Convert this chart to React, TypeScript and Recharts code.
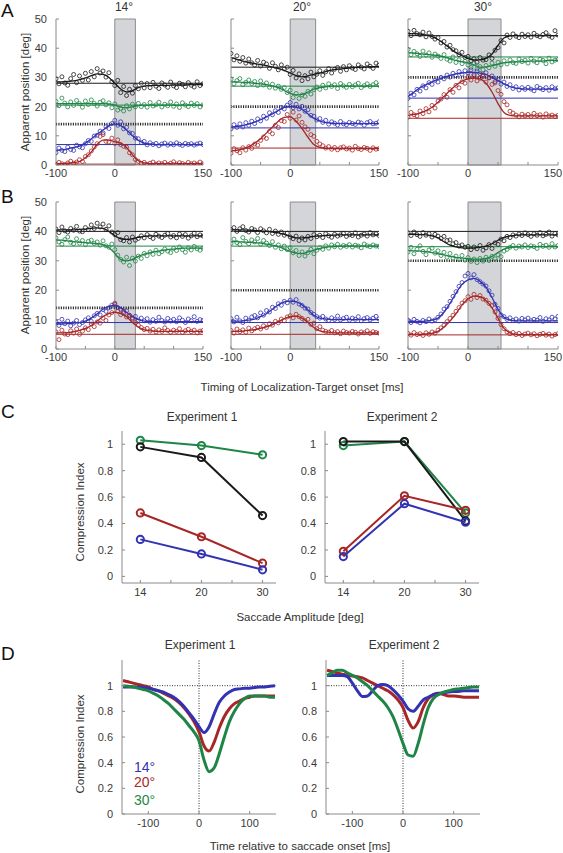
import React from "react";
import {
  ComposedChart,
  XAxis,
  YAxis,
  Scatter,
  Line,
  ReferenceLine,
  ReferenceArea,
} from "recharts";

// ---- time grids ----
const tDots = [-100, -95, -90, -85, -80, -75, -70, -65, -60, -55, -50, -45, -40, -35, -30, -25, -20, -15, -10, -5, 0, 5, 10, 15, 20, 25, 30, 35, 40, 45, 50, 55, 60, 65, 70, 75, 80, 85, 90, 95, 100, 105, 110, 115, 120, 125, 130, 135, 140, 145, 150];
const tFit = [-100, -90, -80, -70, -60, -50, -40, -30, -20, -10, 0, 10, 20, 30, 40, 50, 60, 70, 80, 90, 100, 110, 120, 130, 140, 150];
const tCurve = [-150, -140, -130, -120, -110, -100, -90, -80, -70, -60, -50, -40, -30, -20, -10, 0, 10, 20, 30, 40, 50, 60, 70, 80, 90, 100, 110, 120, 130, 140, 150];

// ---- A, 14 deg ----
const a14BlackDots = [29.5, 27.8, 30.2, 28.1, 27.3, 29.6, 31.0, 28.2, 30.5, 29.0, 31.4, 29.1, 32.0, 30.2, 33.0, 31.5, 32.2, 30.1, 31.6, 28.5, 27.2, 29.0, 24.8, 26.9, 23.8, 25.9, 24.6, 27.2, 26.1, 28.0, 26.4, 27.9, 26.5, 28.3, 27.0, 26.2, 28.1, 27.4, 26.6, 28.4, 27.1, 26.5, 28.0, 27.6, 26.8, 28.2, 27.3, 26.7, 28.5, 27.2, 27.8];
const a14GreenDots = [21.8, 20.3, 22.9, 21.2, 19.9, 21.6, 20.4, 22.1, 21.0, 19.8, 21.9, 20.7, 22.3, 21.1, 20.2, 21.5, 22.0, 20.6, 21.3, 19.6, 20.9, 18.8, 19.4, 18.5, 20.3, 19.2, 20.8, 19.9, 21.1, 20.0, 20.7, 19.8, 21.4, 20.2, 20.6, 21.5, 19.9, 20.8, 20.3, 21.6, 20.1, 20.9, 19.7, 21.3, 20.5, 20.0, 21.2, 20.4, 21.0, 19.9, 20.6];
const a14BlueDots = [4.2, 5.8, 5.0, 4.6, 6.1, 5.3, 5.0, 6.8, 6.2, 5.9, 7.3, 8.4, 8.1, 9.9, 10.2, 11.6, 11.0, 13.1, 12.5, 14.2, 15.3, 13.6, 14.8, 12.4, 12.9, 11.0, 10.8, 9.2, 9.0, 7.7, 8.1, 6.9, 7.6, 7.0, 7.4, 6.6, 7.2, 7.5, 6.8, 7.3, 6.9, 7.6, 7.1, 6.7, 7.4, 7.0, 7.3, 6.8, 7.2, 7.5, 7.0];
const a14RedDots = [0.2, 0.9, 0.4, 0.1, 0.7, 1.3, 0.6, 1.0, 1.8, 1.2, 2.9, 3.5, 4.8, 6.2, 7.3, 9.8, 10.4, 8.1, 7.9, 9.2, 7.4, 8.6, 7.0, 6.4, 6.1, 4.2, 3.5, 1.9, 1.3, 0.5, 0.9, 0.2, 0.6, 1.0, 0.3, 0.7, 0.4, 0.9, 0.2, 0.6, 1.1, 0.3, 0.8, 0.5, 0.1, 0.9, 0.4, 0.7, 0.3, 1.0, 0.5];
const a14BlackFit = [28.5, 28.5, 28.6, 28.8, 29.2, 29.8, 30.6, 31.2, 31.0, 30.0, 28.0, 26.0, 25.0, 25.5, 26.5, 27.0, 27.2, 27.3, 27.3, 27.3, 27.4, 27.4, 27.4, 27.5, 27.5, 27.5];
const a14GreenFit = [21.0, 21.0, 21.0, 21.0, 21.0, 21.0, 21.0, 21.0, 21.0, 20.9, 20.5, 19.8, 19.6, 19.9, 20.3, 20.5, 20.5, 20.5, 20.5, 20.5, 20.5, 20.5, 20.5, 20.5, 20.5, 20.5];
const a14BlueFit = [5.0, 5.2, 5.5, 6.0, 6.5, 7.5, 9.0, 10.5, 12.0, 13.5, 14.0, 13.5, 12.0, 10.0, 8.5, 7.5, 7.2, 7.0, 7.0, 7.0, 7.0, 7.0, 7.0, 7.0, 7.0, 7.0];
const a14RedFit = [0.5, 0.5, 0.6, 0.8, 1.2, 2.5, 4.5, 7.0, 8.5, 8.5, 8.0, 7.5, 6.0, 3.5, 1.5, 0.8, 0.5, 0.5, 0.5, 0.5, 0.5, 0.5, 0.5, 0.5, 0.5, 0.5];
const a14Base = [28, 20.5, 7, 0.3];

// ---- A, 20 deg ----
const a20BlackDots = [38.2, 36.0, 37.4, 35.5, 36.8, 34.9, 36.3, 35.0, 34.2, 35.8, 33.9, 35.2, 34.6, 33.1, 35.0, 33.8, 32.6, 34.3, 32.9, 33.5, 31.0, 32.4, 29.8, 31.2, 28.9, 30.6, 29.5, 31.8, 30.2, 31.1, 32.3, 30.7, 31.9, 33.0, 31.5, 32.8, 33.4, 32.1, 33.7, 32.6, 34.0, 33.2, 32.7, 34.3, 33.5, 32.9, 34.6, 33.8, 33.1, 34.9, 34.2];
const a20GreenDots = [29.4, 27.8, 28.9, 29.6, 27.5, 28.3, 29.1, 27.9, 28.6, 27.2, 28.8, 27.4, 28.1, 26.6, 27.7, 26.3, 27.0, 25.9, 26.5, 24.8, 25.6, 23.1, 24.5, 22.8, 24.0, 23.5, 25.2, 24.3, 25.8, 26.7, 25.9, 27.3, 26.4, 27.8, 26.9, 27.5, 26.2, 27.9, 27.1, 26.6, 27.6, 26.8, 27.4, 28.0, 26.5, 27.2, 27.8, 26.9, 27.5, 28.2, 27.3];
const a20BlueDots = [12.4, 13.8, 12.9, 14.1, 13.0, 14.5, 13.6, 15.0, 14.2, 15.8, 15.1, 16.7, 16.0, 17.9, 17.2, 18.6, 18.0, 19.7, 19.2, 20.5, 21.4, 19.6, 20.8, 19.2, 20.1, 18.4, 18.9, 17.0, 16.7, 15.4, 15.9, 14.6, 15.3, 14.0, 14.8, 14.3, 13.7, 14.9, 14.1, 13.8, 14.6, 14.2, 13.9, 14.7, 14.4, 13.6, 14.5, 14.9, 14.1, 14.3, 14.8];
const a20RedDots = [4.0, 5.6, 4.9, 4.2, 5.9, 5.1, 6.3, 5.7, 7.2, 6.8, 8.4, 9.6, 9.1, 11.5, 10.7, 13.6, 12.8, 15.2, 14.9, 17.3, 16.0, 18.1, 15.4, 16.8, 14.6, 13.1, 12.2, 10.4, 9.8, 8.1, 7.2, 6.6, 5.8, 6.3, 5.4, 6.0, 5.2, 5.9, 6.2, 5.5, 5.8, 5.1, 6.4, 5.6, 5.3, 6.0, 5.7, 5.0, 5.9, 5.4, 5.6];
const a20BlackFit = [36.8, 36.2, 35.6, 35.1, 34.7, 34.4, 34.0, 33.5, 33.0, 32.4, 31.5, 30.6, 30.2, 30.5, 31.0, 31.5, 32.0, 32.5, 32.8, 33.0, 33.2, 33.4, 33.5, 33.6, 33.7, 33.8];
const a20GreenFit = [28.5, 28.5, 28.3, 28.2, 28.0, 27.8, 27.5, 27.0, 26.5, 25.5, 24.5, 24.0, 24.2, 25.0, 26.0, 26.5, 26.8, 27.0, 27.0, 27.0, 27.0, 27.0, 27.0, 27.0, 27.0, 27.0];
const a20BlueFit = [13.0, 13.2, 13.5, 14.0, 14.7, 15.5, 16.5, 17.5, 18.7, 19.7, 20.0, 19.8, 19.0, 17.5, 16.0, 15.0, 14.5, 14.3, 14.2, 14.2, 14.2, 14.2, 14.2, 14.2, 14.2, 14.2];
const a20RedFit = [4.8, 5.0, 5.5, 6.3, 7.5, 9.0, 11.0, 13.0, 15.0, 16.3, 16.5, 15.0, 12.5, 9.5, 7.0, 6.0, 5.7, 5.6, 5.6, 5.6, 5.6, 5.6, 5.6, 5.6, 5.6, 5.6];
const a20Base = [33.5, 27, 12.7, 5.8];

// ---- A, 30 deg ----
const a30BlackDots = [45.8, 44.3, 46.1, 45.0, 44.6, 45.5, 43.9, 45.2, 44.0, 43.1, 43.6, 41.8, 42.3, 40.4, 41.0, 39.5, 39.1, 37.8, 38.6, 36.9, 37.2, 35.7, 36.4, 35.2, 36.8, 35.9, 36.1, 37.7, 36.5, 39.3, 40.2, 42.6, 41.8, 44.5, 43.7, 44.9, 44.1, 43.6, 44.8, 44.0, 44.6, 43.8, 45.1, 44.3, 43.9, 44.7, 45.3, 44.2, 43.7, 46.0, 44.5];
const a30GreenDots = [39.6, 37.8, 38.9, 38.1, 37.2, 39.0, 37.6, 38.4, 36.9, 38.0, 37.3, 36.5, 37.8, 36.2, 35.6, 37.0, 35.1, 36.0, 34.7, 35.5, 34.2, 33.4, 34.8, 32.9, 33.7, 32.6, 34.1, 33.3, 34.9, 33.8, 35.2, 34.3, 35.7, 34.6, 36.0, 35.1, 34.8, 36.3, 35.4, 35.9, 34.9, 36.5, 35.6, 35.0, 36.2, 35.8, 34.7, 36.6, 35.3, 35.9, 36.1];
const a30BlueDots = [22.8, 24.6, 24.0, 25.9, 25.3, 27.1, 26.4, 28.2, 27.6, 29.0, 28.4, 30.0, 29.5, 30.8, 30.1, 31.4, 30.6, 32.0, 31.1, 32.3, 31.5, 32.6, 31.0, 32.2, 31.3, 30.4, 31.6, 29.8, 30.5, 28.6, 29.3, 27.7, 28.4, 26.9, 27.5, 26.2, 26.8, 25.7, 26.5, 25.9, 26.6, 26.0, 25.4, 26.9, 26.3, 25.8, 26.5, 25.6, 26.8, 26.1, 26.4];
const a30RedDots = [16.4, 18.0, 17.2, 16.8, 18.5, 17.6, 19.3, 18.2, 20.4, 19.5, 21.9, 22.6, 24.1, 23.2, 25.8, 24.9, 27.3, 26.4, 28.5, 28.0, 30.2, 29.1, 30.6, 28.8, 29.7, 30.9, 28.4, 29.9, 27.6, 28.1, 25.5, 24.2, 21.7, 20.6, 18.4, 17.8, 17.1, 16.5, 17.4, 16.8, 17.3, 16.6, 17.7, 16.9, 17.2, 16.4, 17.5, 16.8, 17.1, 16.6, 17.0];
const a30BlackFit = [45.0, 45.0, 44.8, 44.5, 44.0, 43.0, 41.5, 40.0, 38.5, 37.5, 36.5, 36.0, 36.0, 36.5, 38.0, 41.0, 43.5, 44.2, 44.3, 44.3, 44.3, 44.3, 44.3, 44.3, 44.3, 44.3];
const a30GreenFit = [38.5, 38.3, 38.1, 37.9, 37.7, 37.5, 37.0, 36.4, 35.8, 35.4, 35.0, 34.2, 33.5, 33.6, 34.0, 34.5, 35.0, 35.2, 35.3, 35.4, 35.5, 35.6, 35.6, 35.7, 35.8, 35.8];
const a30BlueFit = [23.5, 25.0, 26.5, 27.5, 28.5, 29.3, 30.0, 30.7, 31.2, 31.5, 31.7, 31.7, 31.5, 31.0, 30.0, 29.0, 27.8, 26.8, 26.3, 26.1, 26.0, 26.0, 26.0, 26.0, 26.0, 26.0];
const a30RedFit = [17.0, 17.3, 17.8, 18.6, 19.8, 21.5, 23.5, 25.5, 27.3, 28.7, 29.5, 29.8, 29.5, 28.0, 25.0, 21.0, 18.0, 17.0, 16.8, 16.8, 16.8, 16.8, 16.8, 16.8, 16.8, 16.8];
const a30Base = [44.3, 37, 22.9, 16];

// ---- B, 14 deg ----
const b14BlackDots = [40.8, 39.6, 41.5, 40.2, 39.8, 41.0, 40.4, 41.7, 40.1, 39.9, 41.3, 40.6, 42.2, 41.0, 42.8, 41.5, 42.5, 40.7, 41.9, 39.8, 38.9, 39.6, 37.2, 36.8, 37.9, 36.4, 38.1, 37.0, 37.6, 38.5, 37.8, 38.9, 38.2, 37.6, 39.0, 38.4, 37.9, 38.7, 39.3, 38.1, 38.6, 37.8, 39.1, 38.3, 38.9, 37.7, 38.5, 39.4, 38.2, 38.8, 38.4];
const b14GreenDots = [37.8, 36.4, 35.6, 37.2, 38.1, 36.3, 35.8, 37.5, 36.0, 36.9, 35.5, 36.6, 37.0, 35.9, 36.4, 35.3, 36.8, 35.1, 34.6, 35.7, 33.8, 31.9, 30.5, 29.6, 31.2, 28.4, 30.9, 29.9, 31.6, 30.8, 32.5, 31.7, 33.0, 32.2, 33.6, 32.4, 33.1, 34.0, 33.3, 32.8, 34.2, 33.5, 34.7, 33.8, 32.9, 34.4, 33.7, 34.9, 34.1, 33.6, 34.3];
const b14BlueDots = [9.2, 8.0, 10.1, 8.6, 9.5, 7.9, 8.8, 9.7, 8.3, 9.0, 9.9, 10.6, 9.4, 11.3, 12.1, 11.6, 13.4, 12.8, 14.0, 14.9, 15.2, 14.1, 13.5, 12.2, 13.0, 11.4, 10.6, 11.1, 9.8, 10.5, 9.6, 10.3, 9.1, 10.0, 9.4, 10.8, 9.7, 9.2, 10.4, 9.5, 10.1, 9.3, 10.6, 9.8, 9.0, 10.2, 9.6, 11.0, 9.4, 10.0, 9.7];
const b14RedDots = [5.8, 3.2, 6.4, 5.1, 4.9, 6.2, 5.4, 6.8, 5.0, 6.1, 7.2, 6.6, 8.5, 7.6, 9.2, 8.8, 10.5, 9.7, 11.6, 12.4, 15.6, 12.9, 11.7, 12.8, 10.9, 11.5, 10.2, 9.0, 8.1, 7.3, 6.6, 7.0, 6.1, 6.7, 5.8, 6.5, 6.0, 7.2, 6.3, 5.7, 6.4, 6.0, 6.9, 5.6, 6.2, 6.7, 5.9, 6.4, 5.5, 6.1, 6.3];
const b14BlackFit = [40.5, 40.5, 40.5, 40.5, 40.7, 40.8, 41.0, 41.2, 41.0, 40.0, 38.5, 37.5, 37.3, 37.5, 38.0, 38.3, 38.5, 38.5, 38.5, 38.5, 38.5, 38.5, 38.5, 38.5, 38.5, 38.5];
const b14GreenFit = [37.0, 37.0, 36.8, 36.5, 36.3, 36.2, 36.0, 35.8, 35.5, 34.5, 32.5, 30.5, 30.0, 30.5, 31.5, 32.3, 32.8, 33.2, 33.5, 33.8, 34.0, 34.2, 34.3, 34.3, 34.3, 34.3];
const b14BlueFit = [8.5, 8.5, 8.6, 8.8, 9.0, 9.5, 10.5, 12.0, 13.5, 14.5, 14.8, 14.0, 12.5, 11.0, 10.0, 9.5, 9.3, 9.3, 9.3, 9.3, 9.3, 9.3, 9.3, 9.3, 9.3, 9.3];
const b14RedFit = [5.5, 5.5, 5.6, 5.8, 6.3, 7.0, 8.0, 9.5, 11.0, 12.0, 12.5, 12.0, 11.0, 9.0, 7.5, 6.5, 6.2, 6.0, 6.0, 6.0, 6.0, 6.0, 6.0, 6.0, 6.0, 6.0];
const b14Base = [40, 35, 9, 5];

// ---- B, 20 deg ----
const b20BlackDots = [40.6, 41.3, 40.0, 40.9, 41.6, 40.3, 39.8, 41.0, 40.5, 39.6, 40.9, 40.2, 39.5, 40.7, 39.3, 40.1, 39.0, 39.8, 38.7, 39.4, 38.1, 37.5, 38.4, 36.9, 37.8, 37.1, 38.3, 37.6, 38.9, 38.2, 38.7, 37.9, 39.2, 38.5, 38.0, 39.0, 38.4, 38.8, 39.3, 38.3, 38.9, 38.6, 39.5, 38.1, 38.7, 39.1, 38.4, 39.6, 38.8, 39.2, 38.6];
const b20GreenDots = [35.9, 37.4, 36.2, 35.5, 37.9, 36.6, 35.8, 37.1, 36.4, 37.6, 35.7, 36.9, 36.0, 35.2, 36.5, 34.6, 35.4, 34.1, 35.0, 33.8, 34.4, 32.7, 33.5, 31.8, 33.0, 31.6, 32.8, 33.9, 32.4, 33.6, 34.5, 33.9, 35.1, 34.3, 35.4, 34.8, 35.6, 34.6, 35.2, 34.9, 35.5, 34.7, 35.3, 35.0, 34.4, 35.7, 35.1, 34.8, 35.4, 35.0, 34.9];
const b20BlueDots = [10.3, 9.2, 10.8, 9.6, 9.0, 10.5, 9.8, 10.9, 11.4, 10.6, 12.3, 11.5, 13.1, 12.6, 14.2, 13.8, 15.4, 14.9, 16.2, 15.7, 16.6, 15.9, 16.8, 15.3, 14.8, 13.9, 13.6, 12.4, 11.8, 11.0, 10.5, 11.1, 10.2, 9.7, 10.6, 10.0, 11.2, 9.9, 10.4, 10.8, 9.8, 10.5, 10.1, 11.0, 9.6, 10.3, 10.7, 9.9, 10.5, 11.1, 10.2];
const b20RedDots = [6.3, 5.4, 6.8, 5.9, 6.5, 5.7, 7.1, 6.2, 6.9, 7.4, 6.8, 7.9, 7.3, 8.6, 8.1, 9.4, 8.9, 10.2, 9.6, 10.9, 11.3, 10.6, 11.8, 11.0, 10.4, 9.6, 10.1, 8.4, 8.8, 6.9, 7.6, 6.4, 6.0, 5.7, 6.3, 5.5, 5.9, 5.2, 6.1, 5.6, 5.4, 6.0, 5.7, 5.1, 5.8, 5.5, 6.2, 5.3, 5.9, 5.6, 5.4];
const b20BlackFit = [40.5, 40.5, 40.5, 40.4, 40.3, 40.2, 40.0, 39.8, 39.5, 39.0, 38.3, 37.8, 37.8, 38.0, 38.3, 38.5, 38.6, 38.7, 38.8, 38.8, 38.8, 38.8, 38.8, 38.8, 38.8, 38.8];
const b20GreenFit = [36.5, 36.5, 36.4, 36.3, 36.2, 36.0, 35.7, 35.3, 34.8, 34.0, 33.2, 32.6, 32.5, 33.0, 33.6, 34.2, 34.6, 34.8, 34.9, 35.0, 35.0, 35.0, 35.0, 35.0, 35.0, 35.0];
const b20BlueFit = [9.5, 9.5, 9.6, 9.8, 10.2, 11.0, 12.0, 13.5, 15.0, 16.0, 16.3, 16.0, 15.0, 13.3, 11.5, 10.5, 10.2, 10.0, 10.0, 10.0, 10.0, 10.0, 10.0, 10.0, 10.0, 10.0];
const b20RedFit = [6.0, 6.0, 6.1, 6.3, 6.6, 7.0, 7.5, 8.3, 9.3, 10.3, 11.0, 11.2, 10.5, 9.0, 7.3, 6.2, 5.8, 5.6, 5.5, 5.5, 5.5, 5.5, 5.5, 5.5, 5.5, 5.5];
const b20Base = [40, 35, 9, 5];

// ---- B, 30 deg ----
const b30BlackDots = [39.5, 38.6, 39.8, 38.9, 38.3, 39.6, 38.7, 39.2, 38.1, 39.0, 38.4, 37.6, 38.3, 36.9, 37.1, 35.8, 36.2, 35.0, 35.4, 34.6, 34.9, 33.8, 34.7, 34.1, 35.2, 33.6, 34.4, 35.5, 34.2, 36.1, 35.6, 37.4, 36.8, 38.3, 37.9, 38.8, 38.4, 39.1, 38.6, 39.5, 38.9, 38.3, 39.2, 38.7, 39.6, 38.5, 39.0, 39.8, 38.4, 39.3, 38.8];
const b30GreenDots = [33.0, 34.6, 32.4, 33.9, 35.1, 33.2, 32.1, 33.7, 34.3, 32.6, 33.4, 31.8, 32.9, 31.2, 32.5, 30.9, 31.6, 30.4, 31.8, 30.2, 31.1, 29.8, 30.6, 29.4, 30.8, 29.9, 31.2, 30.1, 31.5, 30.7, 32.0, 31.4, 33.3, 33.9, 34.6, 35.2, 34.3, 35.0, 34.7, 35.4, 34.5, 35.1, 34.8, 34.2, 35.6, 34.9, 35.3, 34.6, 35.8, 34.7, 35.2];
const b30BlueDots = [9.8, 9.0, 10.1, 9.4, 8.9, 9.7, 9.3, 10.2, 9.5, 9.9, 10.8, 11.9, 13.6, 14.4, 16.2, 17.9, 19.5, 21.3, 22.6, 24.8, 25.7, 24.2, 25.3, 23.6, 22.9, 22.1, 21.4, 19.8, 18.3, 15.2, 13.8, 11.6, 11.0, 10.1, 10.6, 9.7, 10.2, 9.5, 10.4, 9.9, 10.5, 9.6, 10.1, 9.8, 10.7, 9.4, 10.3, 9.9, 10.8, 10.2, 11.1];
const b30RedDots = [5.3, 4.7, 5.6, 4.9, 5.2, 4.6, 5.5, 5.0, 5.8, 5.4, 6.4, 7.2, 8.1, 9.3, 10.4, 11.5, 12.8, 14.1, 15.6, 16.4, 17.8, 16.9, 18.6, 17.5, 18.2, 17.0, 16.6, 15.5, 14.8, 12.6, 10.4, 8.3, 6.9, 5.8, 5.2, 5.6, 4.9, 5.3, 4.6, 5.1, 5.4, 4.8, 5.2, 4.5, 5.0, 5.3, 4.7, 5.1, 4.4, 4.9, 5.2];
const b30BlackFit = [39.0, 39.0, 38.9, 38.8, 38.5, 37.8, 36.5, 35.3, 34.7, 34.4, 34.3, 34.4, 34.6, 35.0, 35.8, 37.0, 38.0, 38.5, 38.7, 38.8, 38.8, 38.8, 38.8, 38.8, 38.8, 38.8];
const b30GreenFit = [33.5, 33.4, 33.3, 33.1, 32.8, 32.4, 32.0, 31.5, 31.2, 30.9, 30.7, 30.6, 30.6, 30.8, 31.5, 32.8, 34.0, 34.5, 34.7, 34.8, 34.8, 34.8, 34.8, 34.8, 34.8, 34.8];
const b30BlueFit = [9.5, 9.4, 9.4, 9.5, 9.8, 10.5, 12.5, 15.5, 19.0, 22.0, 23.5, 24.0, 23.0, 21.0, 17.5, 13.5, 10.8, 9.8, 9.6, 9.6, 9.6, 9.6, 9.6, 9.6, 9.6, 9.6];
const b30RedFit = [5.0, 5.0, 5.0, 5.1, 5.3, 6.0, 7.5, 9.5, 12.0, 15.0, 17.0, 18.0, 17.8, 16.5, 14.0, 10.5, 7.0, 5.5, 5.0, 4.9, 4.9, 4.9, 4.9, 4.9, 4.9, 4.9];
const b30Base = [40, 34.8, 9, 4.8];

// saccade targets and durations (ms)
const targets = [14, 20, 30];
const sacDur = [35, 43, 55];

// ---- C ----
const ampLabels = ["14", "20", "30"];
const c1Black = [0.98, 0.9, 0.46];
const c1Green = [1.03, 0.99, 0.92];
const c1Red = [0.48, 0.3, 0.1];
const c1Blue = [0.28, 0.17, 0.05];
const c2Black = [1.02, 1.02, 0.42];
const c2Green = [0.99, 1.02, 0.48];
const c2Red = [0.19, 0.61, 0.5];
const c2Blue = [0.15, 0.55, 0.41];

// ---- D ----
const d1Blue = [0.99, 0.99, 0.99, 0.99, 0.985, 0.98, 0.97, 0.96, 0.95, 0.93, 0.91, 0.88, 0.84, 0.79, 0.74, 0.68, 0.635, 0.68, 0.78, 0.87, 0.92, 0.95, 0.97, 0.975, 0.98, 0.98, 0.985, 0.99, 0.99, 0.995, 1.0];
const d1Red = [1.04, 1.03, 1.02, 1.01, 1.0, 0.99, 0.97, 0.96, 0.94, 0.92, 0.9, 0.87, 0.83, 0.78, 0.72, 0.64, 0.53, 0.49, 0.56, 0.67, 0.76, 0.82, 0.86, 0.88, 0.9, 0.91, 0.92, 0.92, 0.92, 0.92, 0.92];
const d1Green = [1.0, 0.995, 0.99, 0.98, 0.97, 0.96, 0.94, 0.92, 0.89, 0.86, 0.82, 0.78, 0.74, 0.69, 0.64, 0.57, 0.42, 0.33, 0.36, 0.47, 0.6, 0.72, 0.8, 0.86, 0.9, 0.92, 0.92, 0.92, 0.92, 0.91, 0.91];
const d2Blue = [1.08, 1.08, 1.08, 1.08, 1.07, 1.02, 0.96, 0.915, 0.92, 0.96, 1.0, 1.01, 1.0, 0.97, 0.93, 0.88, 0.82, 0.8, 0.84, 0.89, 0.91, 0.93, 0.94, 0.945, 0.95, 0.955, 0.955, 0.96, 0.96, 0.96, 0.96];
const d2Red = [1.12, 1.11, 1.1, 1.09, 1.08, 1.075, 1.07, 1.06, 1.04, 1.02, 1.0, 0.98, 0.96, 0.93, 0.89, 0.83, 0.73, 0.67, 0.72, 0.83, 0.9, 0.93, 0.94, 0.93, 0.92, 0.92, 0.915, 0.91, 0.91, 0.91, 0.91];
const d2Green = [1.08, 1.1, 1.12, 1.12, 1.1, 1.08, 1.06, 1.03, 1.0, 0.96, 0.92, 0.88, 0.83, 0.76, 0.66, 0.55, 0.46, 0.45, 0.55, 0.7, 0.83, 0.9, 0.93, 0.95, 0.96, 0.97, 0.975, 0.98, 0.985, 0.99, 0.99];

const FONT = "'Liberation Sans', Arial, Helvetica, sans-serif";
const BLACK = "#1a1a1a";
const GREEN = "#1f8546";
const BLUE = "#3232b2";
const RED = "#a82626";
const COLORS = [BLACK, GREEN, BLUE, RED];
const AXIS = "#8a8a8a";
const TICK = { fontSize: 11, fill: "#3a3a3a", fontFamily: FONT };

const rowA = [
  { dots: [a14BlackDots, a14GreenDots, a14BlueDots, a14RedDots], fits: [a14BlackFit, a14GreenFit, a14BlueFit, a14RedFit], base: a14Base },
  { dots: [a20BlackDots, a20GreenDots, a20BlueDots, a20RedDots], fits: [a20BlackFit, a20GreenFit, a20BlueFit, a20RedFit], base: a20Base },
  { dots: [a30BlackDots, a30GreenDots, a30BlueDots, a30RedDots], fits: [a30BlackFit, a30GreenFit, a30BlueFit, a30RedFit], base: a30Base },
];
const rowB = [
  { dots: [b14BlackDots, b14GreenDots, b14BlueDots, b14RedDots], fits: [b14BlackFit, b14GreenFit, b14BlueFit, b14RedFit], base: b14Base },
  { dots: [b20BlackDots, b20GreenDots, b20BlueDots, b20RedDots], fits: [b20BlackFit, b20GreenFit, b20BlueFit, b20RedFit], base: b20Base },
  { dots: [b30BlackDots, b30GreenDots, b30BlueDots, b30RedDots], fits: [b30BlackFit, b30GreenFit, b30BlueFit, b30RedFit], base: b30Base },
];

const plotLeft = [56, 231, 408];
const plotWidth = [147, 148, 150];

// x tick for the position plots: only -100, 0, 150 labelled; last panel's 150 pulled in a bit
function PosXTick({ x, y, payload, last }: any) {
  const v = payload.value;
  const show = v === -100 || v === 0 || v === 150;
  if (!show) return null;
  const dx = last && v === 150 ? -5 : 0;
  return (
    <text x={x + dx} y={y} dy="0.75em" textAnchor="middle" fontSize={11} fill="#3a3a3a" fontFamily={FONT}>
      {v}
    </text>
  );
}

function PosPlot({ idx, top, ph, set }: any) {
  const yW = 30;
  const pw = plotWidth[idx];
  return (
    <div style={{ position: "absolute", left: plotLeft[idx] - yW, top: top - 8 }}>
      <ComposedChart width={yW + pw + 14} height={8 + ph + 22} margin={{ top: 8, right: 14, left: 0, bottom: 0 }}>
        <XAxis
          type="number"
          dataKey="t"
          domain={[-100, 150]}
          ticks={[-100, -50, 0, 50, 100, 150]}
          interval={0}
          height={22}
          tick={<PosXTick last={idx === 2} />}
          tickSize={-3}
          tickMargin={7}
          stroke={AXIS}
          allowDataOverflow
        />
        <YAxis
          type="number"
          domain={[0, 50]}
          ticks={[0, 10, 20, 30, 40, 50]}
          interval={0}
          tickFormatter={(v: number) => (idx === 0 ? String(v) : "")}
          width={yW}
          tick={TICK}
          tickSize={-3}
          tickMargin={12}
          stroke={AXIS}
          allowDataOverflow
        />
        <ReferenceArea x1={0} x2={sacDur[idx]} y1={0} y2={50} fill="#d3d5d8" fillOpacity={1} stroke="#8c8c8c" strokeWidth={1} />
        {set.base.map((b: number, i: number) => (
          <ReferenceLine key={"b" + i} y={b} stroke={COLORS[i]} strokeWidth={1} />
        ))}
        <ReferenceLine y={targets[idx]} stroke="#222" strokeWidth={2.6} strokeDasharray="1.1 1.3" />
        {set.dots.map((arr: number[], i: number) => (
          <Scatter
            key={"s" + i}
            data={tDots.map((t, j) => ({ t, y: arr[j] }))}
            dataKey="y"
            isAnimationActive={false}
            shape={(p: any) => <circle cx={p.cx} cy={p.cy} r={2} fill="none" stroke={COLORS[i]} strokeWidth={0.8} />}
          />
        ))}
        {set.fits.map((arr: number[], i: number) => (
          <Line
            key={"f" + i}
            data={tFit.map((t, j) => ({ t, y: arr[j] }))}
            dataKey="y"
            type="monotone"
            stroke={COLORS[i]}
            strokeWidth={1.3}
            dot={false}
            isAnimationActive={false}
          />
        ))}
      </ComposedChart>
    </div>
  );
}

function CIPlot({ left, series }: any) {
  const yW = 35;
  const data = ampLabels.map((a, i) => ({
    pos: i,
    k: series[0][i],
    g: series[1][i],
    b: series[2][i],
    r: series[3][i],
  }));
  const keys = [
    ["g", GREEN],
    ["k", BLACK],
    ["r", RED],
    ["b", BLUE],
  ];
  return (
    <div style={{ position: "absolute", left: left - yW, top: 431 - 8 }}>
      <ComposedChart width={yW + 154 + 10} height={8 + 152 + 24} data={data} margin={{ top: 8, right: 10, left: 0, bottom: 0 }}>
        <XAxis
          type="number"
          dataKey="pos"
          domain={[-0.3, 2.22]}
          ticks={[0, 0.5, 1, 1.5, 2]}
          interval={0}
          tickFormatter={(v: number) => (Number.isInteger(v) ? ampLabels[v] : "")}
          height={24}
          tick={TICK}
          tickSize={-3}
          tickMargin={8}
          stroke={AXIS}
          allowDataOverflow
        />
        <YAxis
          type="number"
          domain={[-0.05, 1.1]}
          ticks={[0, 0.2, 0.4, 0.6, 0.8, 1]}
          interval={0}
          width={yW}
          tick={TICK}
          tickSize={-3}
          tickMargin={12}
          stroke={AXIS}
          allowDataOverflow
        />
        {keys.map(([k, c]) => (
          <Line
            key={k}
            dataKey={k}
            type="linear"
            stroke={c}
            strokeWidth={2}
            dot={{ r: 3.6, fill: "none", stroke: c, strokeWidth: 2 }}
            isAnimationActive={false}
          />
        ))}
      </ComposedChart>
    </div>
  );
}

function CurvePlot({ left, series }: any) {
  const yW = 35;
  const data = tCurve.map((t, i) => ({ t, b: series[0][i], r: series[1][i], g: series[2][i] }));
  return (
    <div style={{ position: "absolute", left: left - yW, top: 660 - 8 }}>
      <ComposedChart width={yW + 154 + 10} height={8 + 154 + 24} data={data} margin={{ top: 8, right: 10, left: 0, bottom: 0 }}>
        <XAxis
          type="number"
          dataKey="t"
          domain={[-152, 152]}
          ticks={[-100, 0, 100]}
          interval={0}
          height={24}
          tick={TICK}
          tickSize={-3}
          tickMargin={8}
          stroke={AXIS}
          allowDataOverflow
        />
        <YAxis
          type="number"
          domain={[0, 1.2]}
          ticks={[0, 0.2, 0.4, 0.6, 0.8, 1]}
          interval={0}
          width={yW}
          tick={TICK}
          tickSize={-3}
          tickMargin={12}
          stroke={AXIS}
          allowDataOverflow
        />
        <ReferenceLine y={1} stroke="#333" strokeWidth={1} strokeDasharray="1 1.5" />
        <ReferenceLine x={0} stroke="#333" strokeWidth={1} strokeDasharray="1 1.5" />
        <Line dataKey="r" type="monotone" stroke={RED} strokeWidth={3} dot={false} isAnimationActive={false} />
        <Line dataKey="b" type="monotone" stroke={BLUE} strokeWidth={3} dot={false} isAnimationActive={false} />
        <Line dataKey="g" type="monotone" stroke={GREEN} strokeWidth={3} dot={false} isAnimationActive={false} />
      </ComposedChart>
    </div>
  );
}

export default function App() {
  const txt = { fontFamily: FONT, fill: "#333" };
  return (
    <div style={{ position: "absolute", left: 0, top: 0, width: 563, height: 853, background: "#fff", fontFamily: FONT, overflow: "hidden" }}>
      {[0, 1, 2].map((i) => (
        <PosPlot key={"a" + i} idx={i} top={19} ph={146} set={rowA[i]} />
      ))}
      {[0, 1, 2].map((i) => (
        <PosPlot key={"b" + i} idx={i} top={202} ph={147} set={rowB[i]} />
      ))}
      <CIPlot left={122} series={[c1Black, c1Green, c1Blue, c1Red]} />
      <CIPlot left={325} series={[c2Black, c2Green, c2Blue, c2Red]} />
      <CurvePlot left={122} series={[d1Blue, d1Red, d1Green]} />
      <CurvePlot left={326} series={[d2Blue, d2Red, d2Green]} />

      <svg width={563} height={853} style={{ position: "absolute", left: 0, top: 0, pointerEvents: "none" }}>
        <g style={{ fontFamily: FONT }}>
          <text x={1} y={17} fontSize={19} fill="#111">A</text>
          <text x={1} y={203} fontSize={19} fill="#111">B</text>
          <text x={1} y={418} fontSize={19} fill="#111">C</text>
          <text x={1} y={660} fontSize={19} fill="#111">D</text>

          <text x={124} y={11} fontSize={12} textAnchor="middle" {...txt}>14°</text>
          <text x={302} y={11} fontSize={12} textAnchor="middle" {...txt}>20°</text>
          <text x={483} y={11} fontSize={12} textAnchor="middle" {...txt}>30°</text>

          <text transform="translate(29,92) rotate(-90)" fontSize={11.5} textAnchor="middle" {...txt}>Apparent position [deg]</text>
          <text transform="translate(29,275) rotate(-90)" fontSize={11.5} textAnchor="middle" {...txt}>Apparent position [deg]</text>
          <text x={302} y={391} fontSize={11.5} textAnchor="middle" {...txt}>Timing of Localization-Target onset [ms]</text>

          <text x={202} y={421} fontSize={12} textAnchor="middle" {...txt}>Experiment 1</text>
          <text x={402} y={421} fontSize={12} textAnchor="middle" {...txt}>Experiment 2</text>
          <text transform="translate(84,512) rotate(-90)" fontSize={11.5} textAnchor="middle" {...txt}>Compression Index</text>
          <text x={300} y={621} fontSize={11.5} textAnchor="middle" {...txt}>Saccade Amplitude [deg]</text>

          <text x={200} y={649} fontSize={12} textAnchor="middle" {...txt}>Experiment 1</text>
          <text x={404} y={649} fontSize={12} textAnchor="middle" {...txt}>Experiment 2</text>
          <text transform="translate(84,744) rotate(-90)" fontSize={11.5} textAnchor="middle" {...txt}>Compression Index</text>
          <text x={300} y={850} fontSize={11.5} textAnchor="middle" {...txt}>Time relative to saccade onset [ms]</text>

          <text x={134} y={772} fontSize={14} fill={BLUE}>14°</text>
          <text x={134} y={787} fontSize={14} fill={RED}>20°</text>
          <text x={134} y={805} fontSize={14} fill={GREEN}>30°</text>
        </g>
      </svg>
    </div>
  );
}
